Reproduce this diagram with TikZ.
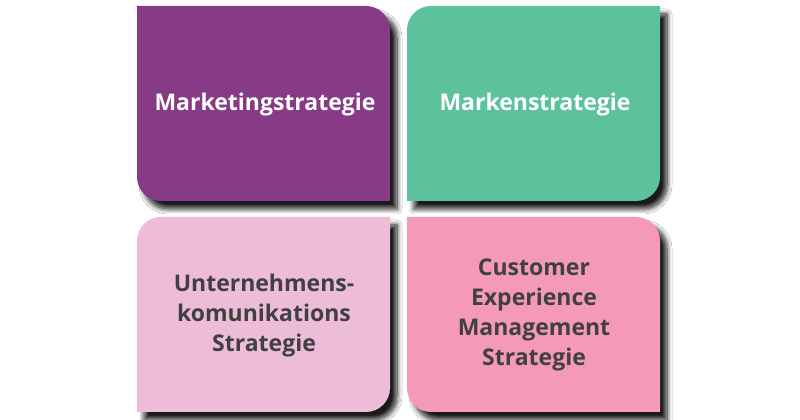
\documentclass[tikz,border=0pt]{standalone}
\usepackage{fontspec}
\setmainfont{Open Sans}
\usetikzlibrary{shadows.blur}
\definecolor{cpurple}{HTML}{873A86}
\definecolor{cgreen}{HTML}{5CC29C}
\definecolor{clpink}{HTML}{ECBCD9}
\definecolor{cpink}{HTML}{F49AB8}
\definecolor{ctext}{HTML}{404040}
\tikzset{
  card/.style={blur shadow={shadow xshift=7pt, shadow yshift=-8pt, shadow blur radius=5pt, shadow opacity=90, shadow blur steps=10}},
  label/.style={align=center, font=\bfseries\fontsize{23}{30}\selectfont, inner sep=0pt}
}
\begin{document}
\begin{tikzpicture}[x=1pt,y=1pt]
\useasboundingbox (0,0) rectangle (800,420);
\fill[white] (0,0) rectangle (800,420);
\def\r{24}
% top-left purple: TR + BL rounded
\fill[cpurple, card] (137,414) -- (390-\r,414) arc[start angle=90,end angle=0,radius=\r] -- (390,219) -- (137+\r,219) arc[start angle=270,end angle=180,radius=\r] -- cycle;
% top-right green: TL + BR rounded
\fill[cgreen, card] (407+\r,414) -- (660,414) -- (660,219+\r) arc[start angle=0,end angle=-90,radius=\r] -- (407,219) -- (407,414-\r) arc[start angle=180,end angle=90,radius=\r] -- cycle;
% bottom-left light pink: TL + BR rounded
\fill[clpink, card] (137+\r,203) -- (390,203) -- (390,8+\r) arc[start angle=0,end angle=-90,radius=\r] -- (137,8) -- (137,203-\r) arc[start angle=180,end angle=90,radius=\r] -- cycle;
% bottom-right pink: TR + BL rounded
\fill[cpink, card] (407,203) -- (660-\r,203) arc[start angle=90,end angle=0,radius=\r] -- (660,8) -- (407+\r,8) arc[start angle=270,end angle=180,radius=\r] -- cycle;
\node[label, text=white] (mk) at (265,315) {Marketingstrategie};
\node[label, text=white] (mr) at (535,315) {Markenstrategie};
\node[label, text=ctext] (uk) at (264,104) {Unternehmens-\\komunikations\\Strategie};
\node[label, text=ctext] (ce) at (534,105) {Customer\\Experience\\Management\\Strategie};
\end{tikzpicture}
\end{document}
